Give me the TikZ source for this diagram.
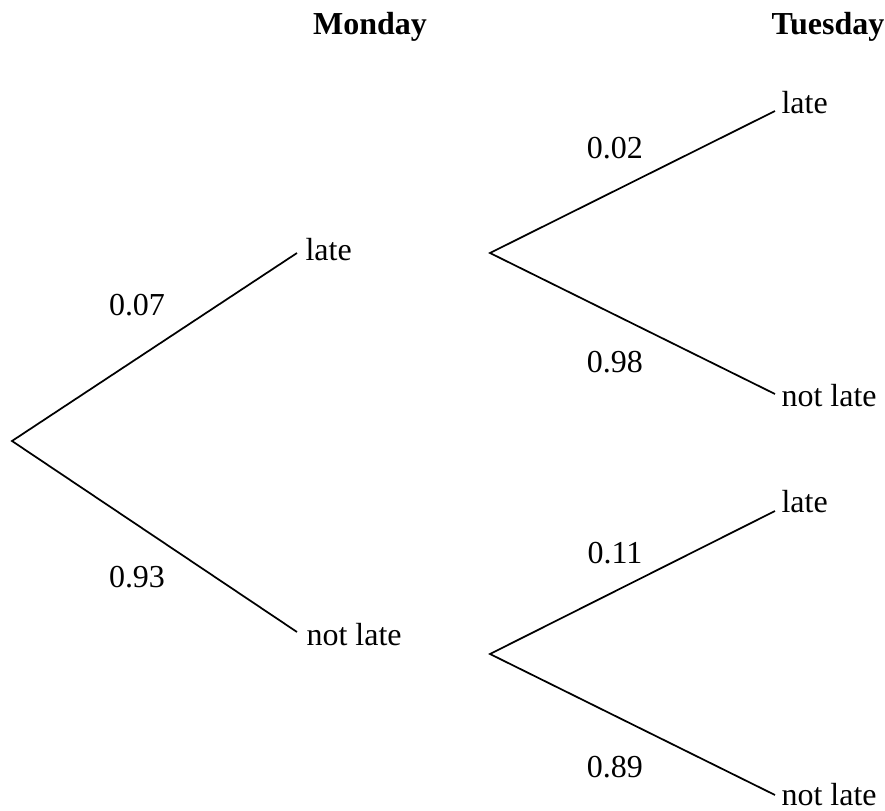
\documentclass[tikz,border=0pt]{standalone}
\usepackage{fontspec}
\setmainfont{Liberation Serif}
\usetikzlibrary{positioning}

\begin{document}
\begin{tikzpicture}[x=0.375pt, y=-0.375pt, font=\fontsize{12}{14}\selectfont]
    \tikzset{
        leaf/.style     =   { anchor=base west
                            , inner sep=0pt
        }
        , prob/.style   =   { inner sep=0pt
        }
        , head/.style   =   { inner sep=0pt
                            , font=\fontsize{12}{14}\selectfont\bfseries
        }
        , branch/.style =   { line width=0.65pt
        }
    }
    \useasboundingbox (0,0) rectangle (885,811);

    \node(mon)[head] at (370,27) {Monday};
    \node(tue)[head] at (828,27) {Tuesday};

    % branch points and ends
    \coordinate(0)  at (12,441);
    \coordinate(1e) at (297,253);
    \coordinate(2e) at (297,632);
    \coordinate(1r) at (490,253);
    \coordinate(2r) at (490,654);
    \coordinate(11e) at (775,111);
    \coordinate(12e) at (775,394);
    \coordinate(21e) at (775,511);
    \coordinate(22e) at (775,795);

    \node(1)[leaf]  at (305,260) {late};
    \node(2)[leaf]  at (306,645) {not late};
    \node(11)[leaf] at (781,113) {late};
    \node(12)[leaf] at (781,406) {not late};
    \node(21)[leaf] at (781,512) {late};
    \node(22)[leaf] at (781,805) {not late};

    \draw[branch] (1e) -- (0) -- (2e);
    \draw[branch] (11e) -- (1r) -- (12e);
    \draw[branch] (21e) -- (2r) -- (22e);

    \node(p1)[prob]  at (137,305) {0.07};
    \node(p2)[prob]  at (137,577) {0.93};
    \node(p11)[prob] at (615,148) {0.02};
    \node(p12)[prob] at (615,362) {0.98};
    \node(p21)[prob] at (615,553) {0.11};
    \node(p22)[prob] at (615,767) {0.89};
\end{tikzpicture}
\end{document}
